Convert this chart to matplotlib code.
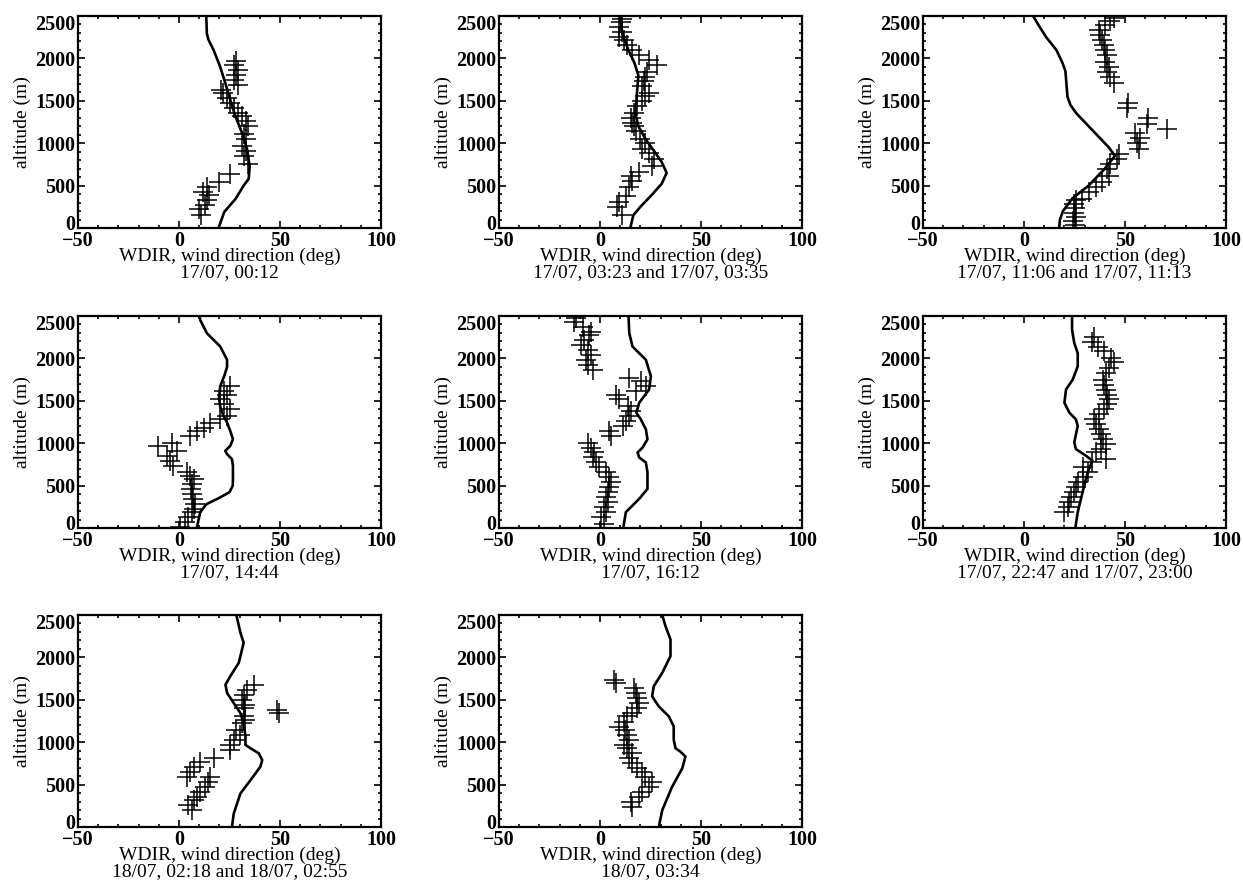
import numpy as np
import matplotlib
matplotlib.use('Agg')
import matplotlib.pyplot as plt
import matplotlib.transforms as mtransforms
from matplotlib.ticker import MultipleLocator

plt.rcParams['font.family'] = ['Liberation Serif', 'DejaVu Serif']
plt.rcParams['font.size'] = 14

# ---- panel 1 : 17/07, 00:12
mod_alt_1 = [0, 190, 340, 500, 580, 730, 930, 1120, 1320, 1510, 1710, 1900, 2100, 2220, 2290, 2500]
mod_dir_1 = [19.6, 22.4, 27.9, 32, 34.5, 35, 33.7, 31.2, 27.9, 25.4, 22.9, 20.4, 17.1, 14.6, 13.8, 13.5]
obs_alt_1 = [150, 220, 270, 330, 390, 430, 480, 546, 636, 752, 850, 909, 967, 1045, 1104, 1201, 1260, 1318,
             1357, 1416, 1474, 1533, 1591, 1630, 1689, 1747, 1806, 1864, 1923, 1973]
obs_dir_1 = [11, 10, 13, 14, 15, 12, 14, 20, 25, 34, 32, 33, 31, 33, 32, 34, 33, 31,
             29, 27, 25, 24, 22, 21, 29, 27, 28, 29, 27, 28]

# ---- panel 2 : 17/07, 03:23 and 03:35
mod_alt_2 = [0, 150, 250, 400, 520, 650, 780, 900, 1050, 1200, 1350, 1500, 1650, 1800, 1950, 2100, 2300, 2500]
mod_dir_2 = [15, 16.5, 20, 26, 30.5, 33, 30.5, 27, 22.5, 19, 17.5, 18, 18.5, 19, 17, 14, 11, 10]
obs_alt_2 = [148, 246, 304, 382, 480, 558, 616, 655, 733, 811, 889, 928, 1006, 1045, 1143, 1201, 1240, 1299,
             1357, 1435, 1494, 1552, 1591, 1669, 1728, 1786, 1845, 1923, 1981, 2040, 2098, 2157, 2215,
             2254, 2313, 2371, 2430, 2469]
obs_dir_2 = [11, 8.6, 9.4, 12.7, 14.3, 16, 15.2, 19.3, 25.8, 26.6, 24.2, 20.9, 22.5, 20, 17.6, 16.8, 16, 15.2,
             16.8, 18.4, 20.9, 22.5, 24.2, 20.9, 21.7, 22.5, 23.4, 28.3, 24.2, 19.3, 16, 13.5, 11.9,
             9.4, 11, 9.4, 10.2, 11]

# ---- panel 3 : 17/07, 11:06 and 11:13
mod_alt_3 = [0, 100, 200, 350, 500, 700, 850, 950, 1050, 1200, 1350, 1450, 1550, 1700, 1850, 1950, 2100,
             2250, 2400, 2500]
mod_dir_3 = [17.4, 17.8, 19.3, 24, 32, 40, 45, 42, 38, 32, 26, 23, 21.5, 21, 20.5, 19, 16, 11, 7, 4.5]
obs_alt_3 = [30, 80, 130, 180, 230, 280, 330, 343, 421, 480, 538, 616, 694, 752, 811, 870, 928, 1006,
             1065, 1123, 1162, 1221, 1299, 1416, 1474, 1708, 1786, 1845, 1903, 1962, 2040, 2098, 2157,
             2215, 2274, 2332, 2391, 2441, 2480]
obs_dir_3 = [25, 24.5, 25.5, 24.8, 25.2, 24.6, 25.5, 28.8, 32.1, 35.4, 38.7, 41.9, 41.1, 42.8, 46, 46.8, 56.7, 55.8,
             57.5, 55, 70.6, 60.7, 61.5, 50.9, 51.7, 44.4, 42.8, 41.1, 41.9, 40.3, 41.1, 40.3, 39.5,
             38.7, 37.8, 37, 40.3, 42.8, 44.4]

# ---- panel 4 : 17/07, 14:44
mod_alt_4 = [0, 187, 280, 350, 422, 500, 578, 734, 812, 871, 910, 969, 1047, 1144, 1242, 1320, 1420, 1530,
             1672, 1800, 1900, 1984, 2140, 2297, 2453, 2500]
mod_dir_4 = [8.8, 10.5, 13.5, 19.5, 25, 26.6, 26.7, 26.7, 26.2, 23.8, 22.9, 25.4, 26.7, 25.4, 23.8, 22.1, 20.5,
             19.8, 20.4, 22.5, 23.8, 23.8, 20.4, 13.8, 10.5, 10.2]
obs_alt_4 = [12, 70, 129, 187, 227, 285, 344, 402, 461, 520, 578, 617, 656, 734, 793, 852, 910, 969, 1008,
             1086, 1144, 1183, 1242, 1281, 1320, 1398, 1457, 1516, 1574, 1613, 1672]
obs_dir_4 = [0.6, 3, 4.7, 6.4, 7.2, 8, 6.9, 6.4, 5.9, 6.4, 7.2, 5.5, 3.9, -2.8, -4.4, -6.1, -1.1, -10.2, -3.6,
             5.5, 8.8, 12.2, 15.5, 20.4, 23.8, 25.4, 22.1, 20.4, 23.8, 22.1, 25.4]

# ---- panel 5 : 17/07, 16:12
mod_alt_5 = [0, 187, 344, 461, 656, 773, 832, 891, 949, 1047, 1164, 1281, 1359, 1476, 1633, 1789, 1984,
             2140, 2297, 2500]
mod_dir_5 = [11.5, 12.8, 19.4, 23.5, 23.5, 22.7, 19.4, 18.6, 21.1, 23.5, 22.7, 20.2, 18, 19.4, 24.3, 25.2, 22.7,
             16.1, 14.5, 14.1]
obs_alt_5 = [51, 129, 187, 246, 305, 363, 422, 480, 539, 598, 656, 715, 773, 832, 891, 949, 1008, 1086, 1144,
             1203, 1262, 1320, 1379, 1437, 1516, 1574, 1613, 1672, 1730, 1770, 1867, 1926, 1984, 2043, 2101,
             2160, 2219, 2277, 2316, 2375, 2433, 2473]
obs_dir_5 = [2.1, 0.5, 3, 2.1, 3.8, 3, 3.8, 4.6, 5.4, 4.6, 3, -0.3, -2, -3.6, -2.8, -4.4, -6.1, 5.4, 4.6,
             11.2, 12.8, 14.5, 15.3, 13.7, 9.5, 7.9, 17.8, 22.7, 20.2, 14.5, -3.6, -6.1, -6.9, -4.4, -6.1,
             -9.4, -7.7, -5.3, -4.4, -8.5, -12.7, -11.8]

# ---- panel 6 : 17/07, 22:47 and 23:00
mod_alt_6 = [0, 187, 422, 656, 793, 852, 930, 1008, 1105, 1203, 1281, 1359, 1476, 1633, 1750, 1906, 2062,
             2179, 2336, 2500]
mod_dir_6 = [25.4, 26.6, 29, 31.5, 33.9, 30.7, 25.7, 24.9, 25.7, 26.6, 25.7, 22.5, 20, 20.8, 24.1, 26.6, 26.6,
             24.9, 23.8, 23.8]
obs_alt_6 = [187, 246, 305, 363, 422, 480, 539, 598, 656, 715, 773, 813, 891, 930, 988, 1047, 1105, 1164,
             1223, 1281, 1340, 1398, 1457, 1516, 1574, 1633, 1691, 1750, 1828, 1887, 1953, 2004, 2082,
             2140, 2199, 2258]
obs_dir_6 = [20, 21.6, 22.5, 23.3, 24.9, 25.7, 26.6, 29, 31.5, 29, 33.9, 40.5, 35.6, 38, 40.5, 38.9, 38, 37.2,
             35.6, 34.8, 37.2, 39.7, 41.3, 42.1, 41.3, 40.5, 39.7, 38.9, 40.5, 42.1, 44.6, 43, 39.7,
             36.4, 33.9, 34.8]

# ---- panel 7 : 18/07, 02:18 and 02:55
mod_alt_7 = [0, 158, 395, 553, 711, 790, 869, 928, 968, 1067, 1225, 1343, 1462, 1580, 1679, 1778, 1936,
             2173, 2291, 2500]
mod_dir_7 = [26.2, 27.1, 30.4, 35.4, 40.3, 41.2, 39.5, 35.4, 32.9, 32.9, 32, 30.4, 27.1, 23.8, 23, 25.4, 29.6,
             32, 30.4, 28.4]
obs_alt_7 = [198, 257, 316, 356, 415, 474, 533, 593, 593, 652, 711, 770, 810, 909, 968, 1027, 1086, 1146,
             1225, 1264, 1304, 1343, 1383, 1402, 1442, 1501, 1560, 1620, 1679]
obs_dir_7 = [6.4, 4.7, 7.2, 8.8, 10.5, 13, 14.6, 15.5, 3.9, 5.5, 7.2, 10.5, 17.1, 25.4, 25.4, 27.1, 30.4, 28,
             31.2, 32.9, 32, 49.5, 48.6, 32, 32.9, 31.2, 32, 33.7, 37]

# ---- panel 8 : 18/07, 03:34
mod_alt_8 = [0, 198, 474, 691, 830, 889, 928, 1027, 1185, 1304, 1422, 1541, 1659, 1817, 2015, 2212, 2370, 2500]
mod_dir_8 = [29.1, 30.8, 35.7, 40.7, 42.3, 39.8, 37.4, 36.5, 36.5, 34.1, 29.1, 25.8, 26.6, 30.8, 34.9, 34.9,
             32.4, 30.8]
obs_alt_8 = [237, 296, 356, 415, 474, 533, 593, 652, 691, 750, 810, 869, 928, 968, 1027, 1086, 1146, 1185,
             1244, 1304, 1343, 1402, 1462, 1521, 1580, 1639, 1699, 1738]
obs_dir_8 = [15.9, 15.1, 19.2, 20.9, 24.2, 25.8, 22.5, 20.9, 18.4, 15.9, 14.3, 15.9, 13.5, 11.8, 14.3, 13.5,
             12.6, 9.3, 11.8, 13.5, 15.9, 18.4, 19.2, 18.4, 17.6, 16.8, 7.7, 6.9]

times = ['17/07, 00:12',
         '17/07, 03:23 and 17/07, 03:35',
         '17/07, 11:06 and 17/07, 11:13',
         '17/07, 14:44',
         '17/07, 16:12',
         '17/07, 22:47 and 17/07, 23:00',
         '18/07, 02:18 and 18/07, 02:55',
         '18/07, 03:34']

x_ticks = [-50, 0, 50, 100]
y_ticks = [0, 500, 1000, 1500, 2000, 2500]

models = [(mod_dir_1, mod_alt_1), (mod_dir_2, mod_alt_2), (mod_dir_3, mod_alt_3), (mod_dir_4, mod_alt_4),
          (mod_dir_5, mod_alt_5), (mod_dir_6, mod_alt_6), (mod_dir_7, mod_alt_7), (mod_dir_8, mod_alt_8)]
obs = [(obs_dir_1, obs_alt_1), (obs_dir_2, obs_alt_2), (obs_dir_3, obs_alt_3), (obs_dir_4, obs_alt_4),
       (obs_dir_5, obs_alt_5), (obs_dir_6, obs_alt_6), (obs_dir_7, obs_alt_7), (obs_dir_8, obs_alt_8)]

W, H = 1243, 885
fig = plt.figure(figsize=(W / 100, H / 100), dpi=100)

# axes boxes in pixels: left, top
col_left = [78, 499, 923]
row_top = [16, 316, 615]
ax_w, ax_h = 303, 212

for i in range(8):
    r, c = divmod(i, 3)
    left = col_left[c] / W
    bottom = 1 - (row_top[r] + ax_h) / H
    ax = fig.add_axes([left, bottom, ax_w / W, ax_h / H])

    md, ma = models[i]
    od, oa = obs[i]
    ax.plot(md, ma, color='black', lw=1.9, solid_joinstyle='round')
    ax.plot(od, oa, ls='none', marker='+', color='black', ms=14, mew=1.1)

    ax.set_xlim(x_ticks[0], x_ticks[-1])
    ax.set_ylim(y_ticks[0], y_ticks[-1])
    ax.set_xticks(x_ticks)
    ax.set_yticks(y_ticks)
    ax.xaxis.set_minor_locator(MultipleLocator(10))
    ax.yaxis.set_minor_locator(MultipleLocator(100))
    ax.tick_params(which='both', direction='in', top=True, right=True, width=1.2)
    ax.tick_params(which='major', length=5, pad=2)
    ax.tick_params(which='minor', length=2.5)
    for s in ax.spines.values():
        s.set_linewidth(1.6)
    for lab in ax.get_xticklabels() + ax.get_yticklabels():
        lab.set_fontsize(14.5)
        lab.set_fontweight('bold')

    # end labels nudged inside the axis span, like the original
    yt = ax.yaxis.get_major_ticks()
    for tk, dy in ((yt[0], 4 / 72), (yt[-1], -4.5 / 72)):
        tk.label1.set_transform(tk.label1.get_transform()
                                + mtransforms.ScaledTranslation(0, dy, fig.dpi_scale_trans))

    ax.set_xlabel('WDIR, wind direction (deg)\n' + times[i], fontsize=14, labelpad=-2, linespacing=0.9)
    ax.set_ylabel('altitude (m)', fontsize=14, labelpad=3)

fig.savefig('out.png', dpi=100)
